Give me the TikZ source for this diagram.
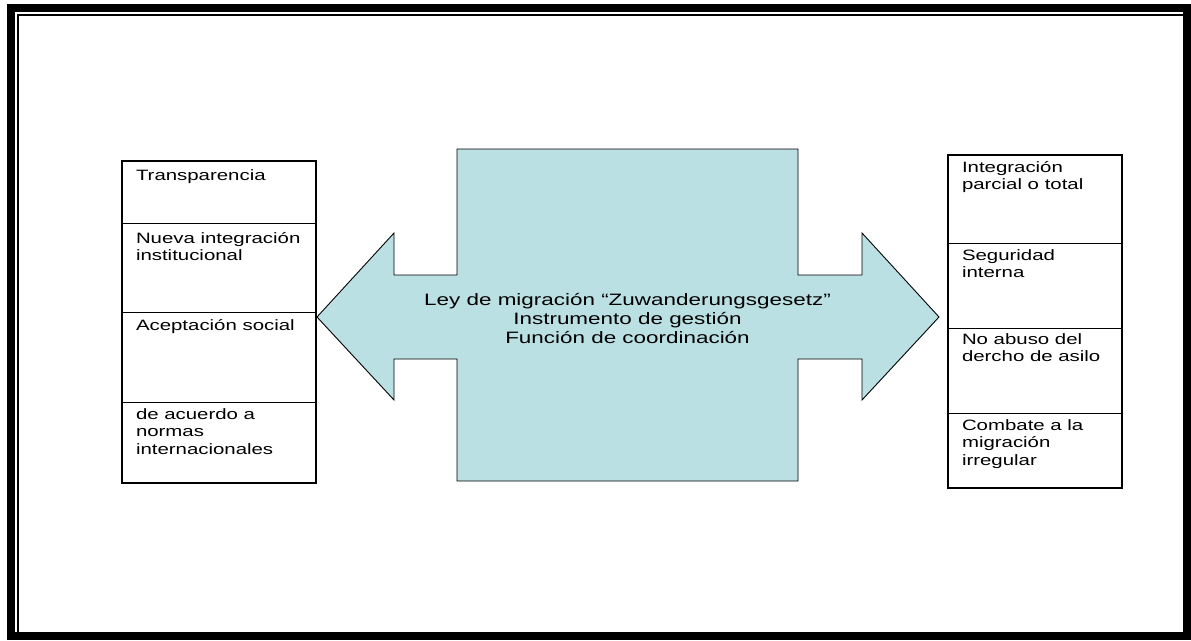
\documentclass[tikz,border=0pt]{standalone}
\usepackage{fontspec}
\setmainfont{Liberation Sans}
\newfontfamily\wfont[FakeStretch=1.36]{Liberation Sans}
\definecolor{arrowfill}{RGB}{187,224,227}
\newcommand{\tstrut}{\rule{0pt}{13pt}}
\newcommand{\cstrut}{\rule{0pt}{15pt}}
\tikzset{
  frame/.style={draw=black, line width=8pt},
  thinframe/.style={draw=black, line width=2pt},
  cell/.style={draw=black, line width=1pt, inner sep=0pt, outer sep=0pt, anchor=north west, rectangle},
  boxframe/.style={draw=black, line width=2.6pt},
  ctext/.style={inner sep=0pt, outer sep=0pt, anchor=north west, align=left, font=\wfont\fontsize{15}{17.5}\selectfont},
  maintext/.style={inner sep=0pt, outer sep=0pt, anchor=north, align=center, font=\wfont\fontsize{16.5}{19}\selectfont},
  bigarrow/.style={draw=black, line width=0.9pt, fill=arrowfill, line join=miter}
}
\begin{document}
\begin{tikzpicture}[x=1pt, y=-1pt]
\useasboundingbox (0,0) rectangle (1191,640);
\fill[white] (0,0) rectangle (1191,640);
% page frame
\draw[frame] (11,8) rectangle (1187,636);
\draw[thinframe] (18,632) -- (18,15) -- (1183,15);
% double arrow with central block
\draw[bigarrow] (317,317) -- (394,233) -- (394,275) -- (457,275) -- (457,149) -- (798,149)
  -- (798,275) -- (862,275) -- (862,233) -- (939,317) -- (862,400) -- (862,359)
  -- (798,359) -- (798,481) -- (457,481) -- (457,359) -- (394,359) -- (394,400) -- cycle;
\node[maintext] (center) at (627.5,290) {\cstrut Ley de migración “Zuwanderungsgesetz”\\Instrumento de gestión\\Función de coordinación};
% left box
\node[cell, minimum width=194pt, minimum height=62pt] (l1) at (122,161) {};
\node[cell, minimum width=194pt, minimum height=89pt] (l2) at (l1.south west) {};
\node[cell, minimum width=194pt, minimum height=90pt] (l3) at (l2.south west) {};
\node[cell, minimum width=194pt, minimum height=81pt] (l4) at (l3.south west) {};
\draw[boxframe] (l1.north west) rectangle (l4.south east);
\node[ctext] (lt1) at ([shift={(14pt,-6pt)}]l1.north west) {\tstrut Transparencia};
\node[ctext] (lt2) at ([shift={(14pt,-7pt)}]l2.north west) {\tstrut Nueva integración\\institucional};
\node[ctext] (lt3) at ([shift={(14pt,-5pt)}]l3.north west) {\tstrut Aceptación social};
\node[ctext] (lt4) at ([shift={(14pt,-4pt)}]l4.north west) {\tstrut de acuerdo a\\normas\\internacionales};
% right box
\node[cell, minimum width=174pt, minimum height=88pt] (r1) at (948,155) {};
\node[cell, minimum width=174pt, minimum height=85pt] (r2) at (r1.south west) {};
\node[cell, minimum width=174pt, minimum height=85pt] (r3) at (r2.south west) {};
\node[cell, minimum width=174pt, minimum height=75pt] (r4) at (r3.south west) {};
\draw[boxframe] (r1.north west) rectangle (r4.south east);
\node[ctext] (rt1) at ([shift={(14pt,-4pt)}]r1.north west) {\tstrut Integración\\parcial o total};
\node[ctext] (rt2) at ([shift={(14pt,-4pt)}]r2.north west) {\tstrut Seguridad\\interna};
\node[ctext] (rt3) at ([shift={(14pt,-3pt)}]r3.north west) {\tstrut No abuso del\\dercho de asilo};
\node[ctext] (rt4) at ([shift={(14pt,-4pt)}]r4.north west) {\tstrut Combate a la\\migración\\irregular};
\end{tikzpicture}
\end{document}
